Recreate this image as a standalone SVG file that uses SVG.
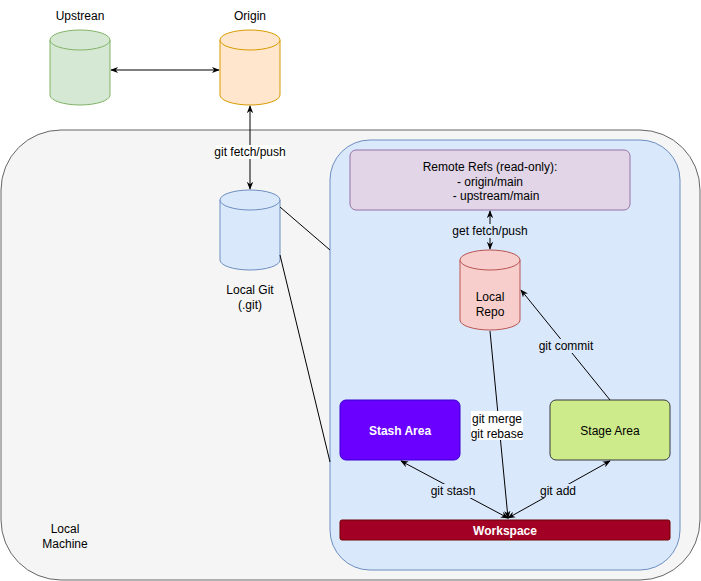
<svg xmlns="http://www.w3.org/2000/svg" width="701" height="581" viewBox="0 0 701 581">
<style>
text{font-family:"Liberation Sans",Arial,sans-serif;font-size:12px;fill:#000;text-anchor:middle}
.c{stroke:#000;stroke-width:1;fill:none}
.lbl{fill:#fff}
.w{fill:#fff;font-weight:bold}
</style>
<defs>
<marker id="a" viewBox="0 0 10 10" refX="9" refY="5" markerWidth="8" markerHeight="8" orient="auto-start-reverse"><path d="M0,1 L10,5 L0,9 L3,5 Z" fill="#000"/></marker>
</defs>
<rect x="1" y="130" width="699" height="450" rx="60" fill="#f5f5f5" stroke="#666"/>
<text x="65" y="533">Local</text><text x="65" y="548">Machine</text>
<rect x="330" y="140" width="350" height="430" rx="40" fill="#dae8fc" stroke="#6c8ebf"/>
<g id="upstream"><path d="M50,40 v55 a30,10 0 0 0 60,0 v-55" fill="#d5e8d4" stroke="#82b366"/><ellipse cx="80" cy="40" rx="30" ry="10" fill="#d5e8d4" stroke="#82b366"/><text x="80" y="20">Upstrean</text></g>
<g id="origin"><path d="M220,40 v55 a30,10 0 0 0 60,0 v-55" fill="#ffe6cc" stroke="#d79b00"/><ellipse cx="250" cy="40" rx="30" ry="10" fill="#ffe6cc" stroke="#d79b00"/><text x="250" y="20">Origin</text></g>
<g id="localgit"><path d="M220,200 v60 a30,10 0 0 0 60,0 v-60" fill="#dae8fc" stroke="#6c8ebf"/><ellipse cx="250" cy="200" rx="30" ry="10" fill="#dae8fc" stroke="#6c8ebf"/><text x="250" y="294">Local Git</text><text x="250" y="309">(.git)</text></g>
<g id="remoterefs"><rect x="350" y="150" width="280" height="60" rx="6" fill="#e1d5e7" stroke="#9673a6"/><text x="490" y="171">Remote Refs (read-only):</text><text x="490" y="186">- origin/main</text><text x="496" y="200">- upstream/main</text></g>
<g id="localrepo"><path d="M460,260 v60 a30,10 0 0 0 60,0 v-60" fill="#f8cecc" stroke="#b85450"/><ellipse cx="490" cy="260" rx="30" ry="10" fill="#f8cecc" stroke="#b85450"/><text x="490" y="301">Local</text><text x="490" y="316">Repo</text></g>
<g id="stash"><rect x="340" y="400" width="120" height="60" rx="6" fill="#6a00ff" stroke="#3700cc"/><text class="w" x="400" y="435">Stash Area</text></g>
<g id="stage"><rect x="550" y="400" width="120" height="60" rx="6" fill="#cdeb8b" stroke="#36393d"/><text x="610" y="435">Stage Area</text></g>
<g id="workspace"><rect x="340" y="520" width="330" height="20" rx="2" fill="#a20025" stroke="#6f0000"/><text class="w" x="505" y="535">Workspace</text></g>
<g id="connectors">
<line class="c" x1="111" y1="70" x2="219" y2="70" marker-start="url(#a)" marker-end="url(#a)"/>
<line class="c" x1="250" y1="106" x2="250" y2="189" marker-start="url(#a)" marker-end="url(#a)"/>
<rect class="lbl" x="216" y="145" width="68" height="14"/><text x="250" y="156">git fetch/push</text>
<line class="c" x1="280" y1="207" x2="330" y2="250"/>
<line class="c" x1="280" y1="255" x2="330" y2="462"/>
<line class="c" x1="490" y1="211" x2="490" y2="249" marker-start="url(#a)" marker-end="url(#a)"/>
<rect x="455" y="224" width="70" height="14" fill="#dae8fc"/><text x="490" y="235">get fetch/push</text>
<line class="c" x1="490" y1="331" x2="508" y2="518" marker-end="url(#a)"/>
<rect class="lbl" x="471" y="411" width="52" height="29"/><text x="497" y="423">git merge</text><text x="497" y="438">git rebase</text>
<line class="c" x1="610" y1="400" x2="521" y2="290" marker-end="url(#a)"/>
<rect x="538" y="339" width="56" height="14" fill="#dae8fc"/><text x="566" y="350">git commit</text>
<line class="c" x1="508" y1="518" x2="401" y2="461" marker-start="url(#a)" marker-end="url(#a)"/>
<rect x="430" y="484" width="46" height="14" fill="#dae8fc"/><text x="453" y="495">git stash</text>
<line class="c" x1="508" y1="518" x2="610" y2="461" marker-start="url(#a)" marker-end="url(#a)"/>
<rect x="538" y="484" width="40" height="14" fill="#dae8fc"/><text x="558" y="495">git add</text>
</g>
</svg>
